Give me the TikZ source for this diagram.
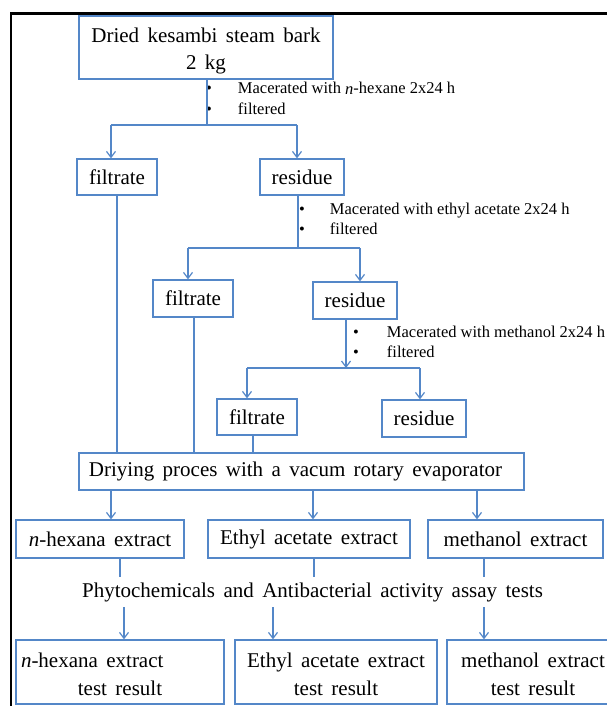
\documentclass[tikz,border=0pt]{standalone}
\usepackage{fontspec}
\setmainfont{Liberation Serif}[WordSpace=1.6]
\newfontfamily\bulfont{Liberation Serif}
\usetikzlibrary{arrows.meta}
\definecolor{flowblue}{RGB}{84,135,200}
\tikzset{
  box/.style={draw=flowblue, line width=1.3pt, inner sep=0pt, align=center,
    font=\fontsize{21}{27}\selectfont, text=black},
  conn/.style={draw=flowblue, line width=1.2pt},
  arr/.style={conn, -{Straight Barb[length=6pt,width=9pt]}},
  bul/.style={inner sep=0pt, anchor=west, font=\bulfont\fontsize{16.5}{20}\selectfont},
  plain/.style={inner sep=0pt, font=\fontsize{21}{27}\selectfont},
}
\begin{document}
\begin{tikzpicture}[x=1pt,y=-1pt]
\useasboundingbox (0,0) rectangle (607,706);
\clip (0,0) rectangle (607,706);
\draw[line width=2.2pt] (11,13.5) rectangle (640,740);

% boxes
\node[box, minimum width=254pt, minimum height=63pt] (top) at (206,47.5) {\rule{0pt}{22pt}Dried kesambi steam bark\\2 kg};
\node[box, minimum width=80pt, minimum height=36pt] (f1) at (117,177) {filtrate};
\node[box, minimum width=84pt, minimum height=36pt] (r1) at (302,177) {residue};
\node[box, minimum width=80pt, minimum height=37pt] (f2) at (193,298.5) {filtrate};
\node[box, minimum width=84pt, minimum height=37pt] (r2) at (355,300.5) {residue};
\node[box, minimum width=80pt, minimum height=36pt] (f3) at (257,417) {filtrate};
\node[box, minimum width=84pt, minimum height=37pt] (r3) at (424,418.5) {residue};
\node[box, minimum width=445pt, minimum height=37pt] (dry) at (301.5,471.5) {Driying proces with a vacum rotary evaporator\hspace*{12pt}};
\node[box, minimum width=168pt, minimum height=38pt] (e1) at (100,539) {\textit{n}-hexana extract};
\node[box, minimum width=202pt, minimum height=38pt] (e2) at (309,539) {Ethyl acetate extract};
\node[box, minimum width=175pt, minimum height=38pt] (e3) at (515.5,539) {methanol extract};
\node[plain, minimum height=30pt] (ph) at (312.5,592) {Phytochemicals and Antibacterial activity assay tests};
\node[box, minimum width=208pt, minimum height=64pt, font=\fontsize{21}{28}\selectfont] (t1) at (120,672) {\rule{0pt}{19pt}\makebox[198pt][l]{\textit{n}-hexana extract}\\test result};
\node[box, minimum width=202pt, minimum height=64pt, font=\fontsize{21}{28}\selectfont] (t2) at (336,672) {\rule{0pt}{19pt}Ethyl acetate extract\\test result};
\node[box, minimum width=172pt, minimum height=64pt, font=\fontsize{21}{28}\selectfont] (t3) at (533,672) {\rule{0pt}{19pt}methanol extract\\test result};

% bullet notes
\node[bul] (m1) at (206,100) {\begin{tabular}{@{}l@{\hspace{26pt}}l@{}}\textbullet & Macerated with \textit{n}-hexane 2x24 h\\ \textbullet & filtered\end{tabular}};
\node[bul] (m2) at (299,220) {\begin{tabular}{@{}l@{\hspace{25pt}}l@{}}\textbullet & Macerated with ethyl acetate 2x24 h\\ \textbullet & filtered\end{tabular}};
\node[bul] (m3) at (353,343.5) {\begin{tabular}{@{}l@{\hspace{28pt}}l@{}}\textbullet & Macerated with methanol 2x24 h\\ \textbullet & filtered\end{tabular}};

% first split
\coordinate (j1) at (207,125);
\coordinate (j1l) at (111,125);
\coordinate (j1r) at (297,125);
\draw[conn] (top.south -| j1) -- (j1);
\draw[conn] (j1l) -- (j1r);
\draw[arr] (j1l) -- (j1l |- f1.north);
\draw[arr] (j1r) -- (j1r |- r1.north);

% second split
\coordinate (j2) at (298,248);
\coordinate (j2l) at (188,248);
\coordinate (j2r) at (360,248);
\draw[conn] (r1.south -| j2) -- (j2);
\draw[conn] (j2l) -- (j2r);
\draw[arr] (j2l) -- (j2l |- f2.north);
\draw[arr] (j2r) -- (j2r |- r2.north);

% third split
\coordinate (j3) at (346,368);
\coordinate (j3l) at (247,368);
\coordinate (j3r) at (420,368);
\draw[arr] (r2.south -| j3) -- (j3);
\draw[conn] (j3l) -- (j3r);
\draw[arr] (j3l) -- (j3l |- f3.north);
\draw[arr] (j3r) -- (j3r |- r3.north);

% filtrates to drying
\coordinate (v1) at (117,0);
\coordinate (v2) at (194,0);
\coordinate (v3) at (253,0);
\draw[conn] (v1 |- f1.south) -- (v1 |- dry.north);
\draw[conn] (v2 |- f2.south) -- (v2 |- dry.north);
\draw[conn] (v3 |- f3.south) -- (v3 |- dry.north);

% drying to extracts
\coordinate (d1) at (111,0);
\coordinate (d2) at (313,0);
\coordinate (d3) at (477,0);
\draw[arr] (d1 |- dry.south) -- (d1 |- e1.north);
\draw[arr] (d2 |- dry.south) -- (d2 |- e2.north);
\draw[arr] (d3 |- dry.south) -- (d3 |- e3.north);

% extracts to tests
\coordinate (p1) at (120,0);
\coordinate (p2) at (314,0);
\coordinate (p3) at (484,0);
\draw[conn] (p1 |- e1.south) -- (p1 |- ph.north);
\draw[conn] (p2 |- e2.south) -- (p2 |- ph.north);
\draw[conn] (p3 |- e3.south) -- (p3 |- ph.north);

% tests to results
\coordinate (q1) at (124,0);
\coordinate (q2) at (273,0);
\coordinate (q3) at (484,0);
\draw[arr] (q1 |- ph.south) -- (q1 |- t1.north);
\draw[arr] (q2 |- ph.south) -- (q2 |- t2.north);
\draw[arr] (q3 |- ph.south) -- (q3 |- t3.north);
\end{tikzpicture}
\end{document}
